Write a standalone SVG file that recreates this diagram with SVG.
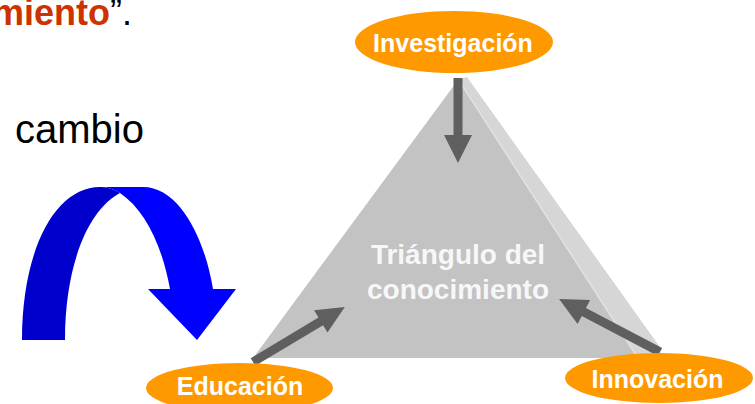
<svg xmlns="http://www.w3.org/2000/svg" width="755" height="404" viewBox="0 0 755 404">
<style>
.node ellipse{fill:#ff9900}
.lbl{font-family:"Liberation Sans",Arial,sans-serif;font-weight:bold;font-size:25px;fill:#ffffff;text-anchor:middle}
.tri{font-size:28px;fill:#f7f7f7}
.arr{fill:#5f5f5f}
</style>
<rect width="755" height="404" fill="#ffffff"/>
<text x="-8" y="25" font-family="Liberation Sans, Arial, sans-serif" font-size="36" font-weight="bold" fill="#cc3300">miento<tspan font-weight="normal" fill="#000000">”.</tspan></text>
<text x="15" y="143" font-family="Liberation Sans, Arial, sans-serif" font-size="40" fill="#000000">cambio</text>
<g id="curved-arrow">
<path d="M22,340 L65,340 C65,265 88,210 120,193 C112,188 105,187 100,187 C55,187 22,250 22,340 Z" fill="#0000cc"/>
<path d="M100,187 L143,187 C180,187 205,240 213,289 L236,289 L197,340 L148,289 L170,289 C162,245 145,210 120,193 C112,188 105,187 100,187 Z" fill="#0000ff"/>
</g>
<g id="triangle">
<polygon points="458,80 467,77 662,350 637,358" fill="#d6d6d6"/>
<polygon points="458,80 253,358 637,358" fill="#c3c3c3"/>
<line x1="460" y1="82" x2="637" y2="356" stroke="#e2e2e2" stroke-width="1.2"/>
<text class="lbl tri" x="458" y="264">Triángulo del</text>
<text class="lbl tri" x="458" y="299">conocimiento</text>
</g>
<g id="connectors">
<polygon class="arr" transform="translate(458,78) rotate(90)" points="0,-4.5 57,-4.5 57,-14 85,0 57,14 57,4.5 0,4.5"/>
<polygon class="arr" transform="translate(253,362) rotate(-30.9)" points="0,-4.5 79,-4.5 79,-13 107,0 79,13 79,4.5 0,4.5"/>
<polygon class="arr" transform="translate(660,352) rotate(-152.3)" points="0,-4.5 86,-4.5 86,-13.5 114,0 86,13.5 86,4.5 0,4.5"/>
</g>
<g id="investigacion" class="node">
<ellipse cx="454" cy="42" rx="99" ry="31"/>
<text class="lbl" x="453" y="52">Investigación</text>
</g>
<g id="educacion" class="node">
<ellipse cx="239.5" cy="388" rx="93.5" ry="25"/>
<text class="lbl" x="240" y="395">Educación</text>
</g>
<g id="innovacion" class="node">
<ellipse cx="659" cy="378" rx="94" ry="25"/>
<text class="lbl" x="657.5" y="388">Innovación</text>
</g>
</svg>
